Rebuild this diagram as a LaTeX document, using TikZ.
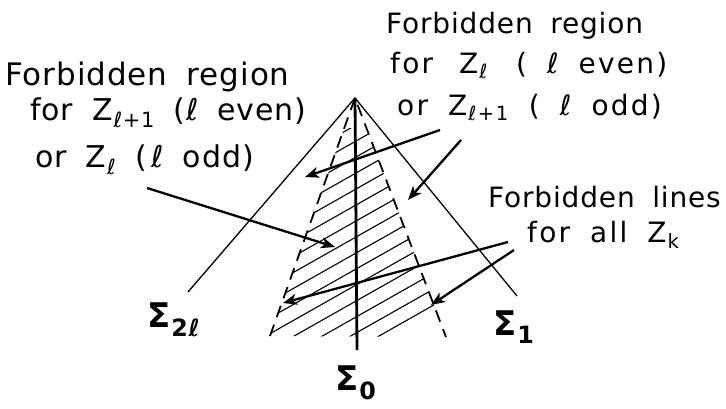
\documentclass[tikz,border=0pt]{standalone}
\usepackage{fontspec}
\setmainfont{DejaVu Sans}[LetterSpace=3, WordSpace=1.8]
\newcommand\lsym{ℓ}
\newcommand\zsub[1]{\textsubscript{\kern1pt #1}}
\usetikzlibrary{arrows.meta}

\begin{document}
\begin{tikzpicture}[x=1pt,y=-1pt]
      \tikzstyle{lbl}=[anchor=base west, inner sep=0pt, font=\fontsize{31}{36}\selectfont]
      \tikzstyle{lbls}=[lbl, font=\fontsize{30}{36}\selectfont]
      \tikzstyle{lblr}=[lbl, font=\fontsize{28}{34}\selectfont]
      \tikzstyle{lblw}=[lbl, font=\fontsize{28}{34}\selectfont\addfontfeatures{LetterSpace=8}]
      \tikzstyle{sig}=[anchor=base west, inner sep=0pt, font=\fontsize{34}{40}\selectfont\bfseries]
      \tikzstyle{side}=[line width=1.3pt]
      \tikzstyle{dside}=[line width=1.8pt, dash pattern=on 12pt off 8pt]
      \tikzstyle{arr}=[-{Stealth[length=14pt,width=11pt,inset=4pt]}, line width=2.3pt]
      \useasboundingbox (0,0) rectangle (726,408);
      % cone
      \coordinate (apex) at (355,98);
      \coordinate (s0) at (357,350);
      \coordinate (sl) at (188,292);
      \coordinate (sr) at (517,296);
      \coordinate (dl) at (270,336);
      \coordinate (dr) at (446,337);
      % hatching between the dashed lines
      \begin{scope}
        \clip (apex) -- (dl) -- (dr) -- cycle;
        \clip (0,128) rectangle (726,340);
        \foreach \c in {185,201,...,410}
          \draw[line width=1.1pt] (250,\c) -- (470,\c-124.5);
      \end{scope}
      \draw[side] (sl) -- (apex) -- (sr);
      \draw[dside] (dl) -- (apex) -- (dr);
      \draw[line width=2.8pt] (apex) -- (s0);
      % labels
      \node[lbl] (l1) at (5,85) {Forbidden region};
      \node[lbls] (l2) at (30,120) {for Z\zsub{\lsym+1} (\lsym\ even)};
      \node[lbls] (l3) at (35,167) {or Z\zsub{\lsym} (\,\lsym\ odd)};
      \node[lblr] (r1) at (386,33) {Forbidden region};
      \node[lblw] (r2) at (390,73) {for\hspace{6pt} Z\zsub{\lsym}\hspace{8pt} ( \lsym\ even)};
      \node[lblw] (r3) at (397,115) {or Z\zsub{\lsym+1} ( \lsym\ odd)};
      \node[lblr] (f1) at (488,207) {Forbidden lines};
      \node[lblw] (f2) at (527,242) {for all Z\zsub{k}};
      \node[sig] (g2) at (147,327) {Σ\zsub{2\lsym}};
      \node[sig] (g1) at (493,335) {Σ\zsub{1}};
      \node[sig] (g0) at (335,390) {Σ\zsub{0}};
      % arrows
      \coordinate (a1) at (440,130); \coordinate (b1) at (305,177);
      \coordinate (a2) at (461,140); \coordinate (b2) at (408,200);
      \coordinate (a3) at (147,188); \coordinate (b3) at (335,247);
      \coordinate (a4) at (508,242); \coordinate (b4) at (283,303);
      \coordinate (a5) at (514,250); \coordinate (b5) at (431,305);
      \draw[arr] (a1) -- (b1);
      \draw[arr] (a2) -- (b2);
      \draw[arr] (a3) -- (b3);
      \draw[arr] (a4) -- (b4);
      \draw[arr] (a5) -- (b5);
    \end{tikzpicture}
\end{document}
